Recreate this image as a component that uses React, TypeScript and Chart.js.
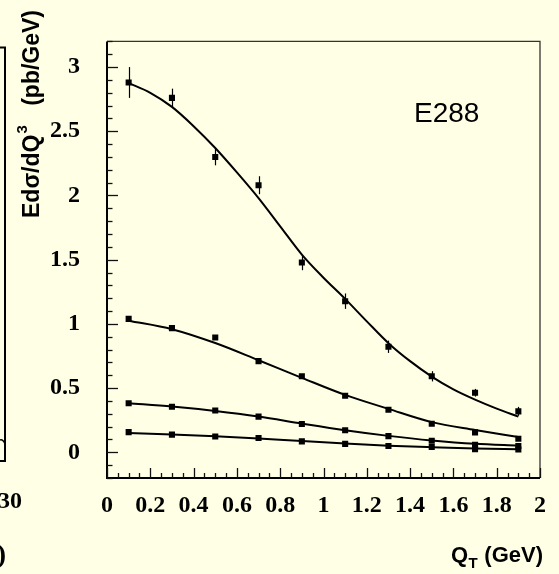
import React, { useEffect, useRef } from "react";
import { Chart, registerables } from "chart.js";

Chart.register(...registerables);

// ---- data ----
const xValues = [0.1, 0.3, 0.5, 0.7, 0.9, 1.1, 1.3, 1.5, 1.7, 1.9];
const seriesA = [2.88, 2.76, 2.3, 2.08, 1.478, 1.177, 0.822, 0.592, 0.464, 0.319];
const errorsA = [0.12, 0.072, 0.065, 0.07, 0.06, 0.06, 0.048, 0.04, 0.03, 0.035];
const seriesB = [1.039, 0.967, 0.894, 0.71, 0.592, 0.44, 0.331, 0.222, 0.155, 0.105];
const errorsB = [0.02, 0.01, 0.01, 0.01, 0.01, 0.008, 0.006, 0.005, 0.005, 0.005];
const seriesC = [0.382, 0.355, 0.326, 0.278, 0.22, 0.172, 0.126, 0.09, 0.058, 0.049];
const seriesD = [0.157, 0.138, 0.123, 0.111, 0.085, 0.066, 0.049, 0.041, 0.025, 0.022];

const curveAX = [0.1, 0.2, 0.3, 0.4, 0.5, 0.6, 0.7, 0.8, 0.9, 1.0, 1.1, 1.2, 1.3, 1.4, 1.5, 1.6, 1.7, 1.8, 1.9];
const curveA = [2.875, 2.8, 2.69, 2.54, 2.37, 2.18, 1.98, 1.76, 1.54, 1.36, 1.195, 1.02, 0.85, 0.71, 0.59, 0.49, 0.41, 0.34, 0.278];
const curveB = [1.025, 0.959, 0.851, 0.717, 0.58, 0.447, 0.338, 0.235, 0.174, 0.119];
const curveC = [0.382, 0.356, 0.322, 0.279, 0.224, 0.172, 0.128, 0.092, 0.066, 0.052];
const curveD = [0.15, 0.139, 0.125, 0.108, 0.088, 0.069, 0.052, 0.04, 0.03, 0.024];

const xTickLabels = ["0", "0.2", "0.4", "0.6", "0.8", "1", "1.2", "1.4", "1.6", "1.8", "2"];
const yTickLabels = ["0", "0.5", "1", "1.5", "2", "2.5", "3"];

const yTitleMain = "Edσ/dQ";
const yTitleSup = "3";
const yTitleUnit = "(pb/GeV)";
const xTitleMain = "Q";
const xTitleSub = "T";
const xTitleUnit = " (GeV)";
const experimentLabel = "E288";
const leftFragmentTick = "30";
const leftFragmentParen = ")";

const BG = "#FFFFE6";
const SERIF = '"Liberation Serif", "Times New Roman", serif';
const SANS = '"Liberation Sans", Arial, sans-serif';

const pts = (xs: number[], ys: number[]) => xs.map((x, i) => ({ x, y: ys[i] }));

const errorBarPlugin = {
  id: "errorBars",
  afterDatasetsDraw(chart: any) {
    const { ctx, scales } = chart;
    const xs = scales.x;
    const ys = scales.y;
    ctx.save();
    ctx.strokeStyle = "#000";
    ctx.lineWidth = 1.2;
    const sets: [number[], number[]][] = [
      [seriesA, errorsA],
      [seriesB, errorsB],
    ];
    sets.forEach(([vals, errs]) => {
      vals.forEach((v, i) => {
        const px = Math.round(xs.getPixelForValue(xValues[i])) + 0.5;
        ctx.beginPath();
        ctx.moveTo(px, ys.getPixelForValue(v + errs[i]));
        ctx.lineTo(px, ys.getPixelForValue(v - errs[i]));
        ctx.stroke();
      });
    });
    ctx.restore();
  },
};

const decorPlugin = {
  id: "decor",
  afterDraw(chart: any) {
    const { ctx, chartArea: a, scales } = chart;
    const xs = scales.x;
    const ys = scales.y;
    ctx.save();
    // frame
    ctx.strokeStyle = "#333";
    ctx.lineWidth = 1.3;
    ctx.beginPath();
    ctx.moveTo(a.left, a.top);
    ctx.lineTo(a.right, a.top);
    ctx.lineTo(a.right, a.bottom);
    ctx.stroke();
    ctx.strokeStyle = "#000";
    ctx.lineWidth = 2;
    ctx.beginPath();
    ctx.moveTo(a.left, a.top);
    ctx.lineTo(a.left, a.bottom);
    ctx.lineTo(a.right, a.bottom);
    ctx.stroke();

    // inward ticks
    ctx.lineWidth = 1.3;
    ctx.strokeStyle = "#111";
    xs.ticks.forEach((t: any) => {
      const px = Math.round(xs.getPixelForValue(t.value)) + 0.5;
      const major = t.label !== "";
      ctx.beginPath();
      ctx.moveTo(px, a.bottom);
      ctx.lineTo(px, a.bottom - (major ? 10 : 5));
      ctx.stroke();
    });
    ys.ticks.forEach((t: any) => {
      const py = Math.round(ys.getPixelForValue(t.value)) + 0.5;
      const major = t.label !== "";
      ctx.beginPath();
      ctx.moveTo(a.left, py);
      ctx.lineTo(a.left + (major ? 11 : 5.5), py);
      ctx.stroke();
    });

    // y title (rotated)
    ctx.fillStyle = "#000";
    ctx.translate(39, 218);
    ctx.rotate(-Math.PI / 2);
    ctx.textBaseline = "alphabetic";
    ctx.textAlign = "left";
    ctx.font = `bold 23px ${SANS}`;
    ctx.fillText(yTitleMain, 0, 0);
    const w1 = ctx.measureText(yTitleMain).width;
    ctx.font = `bold 15px ${SANS}`;
    ctx.fillText(yTitleSup, w1 + 1, -12);
    ctx.font = `bold 23px ${SANS}`;
    ctx.textAlign = "right";
    ctx.fillText(yTitleUnit, 208, 0);
    ctx.setTransform(1, 0, 0, 1, 0, 0);

    // x title
    ctx.textAlign = "left";
    ctx.font = `bold 22px ${SANS}`;
    const wu = ctx.measureText(xTitleUnit).width;
    ctx.font = `bold 15px ${SANS}`;
    const ws = ctx.measureText(xTitleSub).width;
    ctx.font = `bold 22px ${SANS}`;
    const wq = ctx.measureText(xTitleMain).width;
    const right = 543;
    const base = 562;
    const x0 = right - wu - ws - wq - 1;
    ctx.fillText(xTitleMain, x0, base);
    ctx.font = `bold 15px ${SANS}`;
    ctx.fillText(xTitleSub, x0 + wq + 0.5, base + 6);
    ctx.font = `bold 22px ${SANS}`;
    ctx.fillText(xTitleUnit, x0 + wq + ws + 1, base);

    // experiment label
    ctx.font = `28px ${SANS}`;
    ctx.textBaseline = "alphabetic";
    ctx.fillText(experimentLabel, 414, 122);

    // fragment of neighbouring panel on the left
    ctx.strokeStyle = "#000";
    ctx.lineWidth = 2;
    ctx.beginPath();
    ctx.moveTo(0, 47.5);
    ctx.lineTo(5, 47.5);
    ctx.lineTo(5, 461);
    ctx.lineTo(0, 461);
    ctx.stroke();
    ctx.lineWidth = 1.5;
    ctx.beginPath();
    ctx.moveTo(0, 440);
    ctx.quadraticCurveTo(3, 439, 5, 444);
    ctx.stroke();
    ctx.font = `bold 24px ${SERIF}`;
    ctx.textAlign = "right";
    ctx.fillText(leftFragmentTick, 22, 508);
    ctx.font = `bold 28px ${SERIF}`;
    ctx.fillText(leftFragmentParen, 6, 563);
    ctx.restore();
  },
};

export default function App() {
  const ref = useRef<HTMLCanvasElement>(null);
  useEffect(() => {
    document.body.style.margin = "0";
    document.body.style.background = BG;
    const canvas = ref.current!;
    const pointStyle = {
      showLine: false,
      pointStyle: "rect",
      pointRadius: 4.3,
      pointBorderWidth: 0,
      pointBackgroundColor: "#000",
      pointBorderColor: "#000",
      order: 0,
    };
    const lineStyle = {
      showLine: true,
      borderColor: "#000",
      borderWidth: 2,
      pointRadius: 0,
      cubicInterpolationMode: "monotone",
      fill: false,
      order: 1,
    };
    const chart = new Chart(canvas, {
      type: "scatter",
      data: {
        datasets: [
          { label: "A", data: pts(xValues, seriesA), ...pointStyle },
          { label: "B", data: pts(xValues, seriesB), ...pointStyle },
          { label: "C", data: pts(xValues, seriesC), ...pointStyle },
          { label: "D", data: pts(xValues, seriesD), ...pointStyle },
          { label: "fit A", data: pts(curveAX, curveA), ...lineStyle },
          { label: "fit B", data: pts(xValues, curveB), ...lineStyle },
          { label: "fit C", data: pts(xValues, curveC), ...lineStyle },
          { label: "fit D", data: pts(xValues, curveD), ...lineStyle },
        ] as any,
      },
      options: {
        responsive: false,
        animation: false,
        events: [],
        layout: { padding: { left: 0, top: 10, right: 13, bottom: 0 } },
        plugins: { legend: { display: false }, tooltip: { enabled: false } },
        scales: {
          x: {
            type: "linear",
            min: 0,
            max: 2,
            grid: { display: false, drawTicks: false },
            border: { display: false },
            ticks: {
              stepSize: 0.05,
              maxTicksLimit: 1000,
              autoSkip: false,
              maxRotation: 0,
              padding: 13,
              color: "#000",
              font: { family: SERIF, weight: "bold", size: 24 },
              callback: (v: any) => {
                const k = Math.round(Number(v) * 100);
                return k % 20 === 0 ? xTickLabels[k / 20] ?? "" : "";
              },
            },
            afterFit: (s: any) => {
              s.height = 96;
            },
          },
          y: {
            type: "linear",
            min: -0.2,
            max: 3.2,
            grid: { display: false, drawTicks: false },
            border: { display: false },
            ticks: {
              stepSize: 0.1,
              maxTicksLimit: 1000,
              autoSkip: false,
              padding: 27,
              color: "#000",
              font: { family: SERIF, weight: "bold", size: 24 },
              callback: (v: any) => {
                const k = Math.round(Number(v) * 10);
                return k >= 0 && k % 5 === 0 ? yTickLabels[k / 5] ?? "" : "";
              },
            },
            afterFit: (s: any) => {
              s.width = 107;
            },
          },
        },
      } as any,
      plugins: [errorBarPlugin, decorPlugin],
    });
    return () => chart.destroy();
  }, []);
  return (
    <div style={{ position: "fixed", left: 0, top: 0, width: 559, height: 574, background: BG }}>
      <canvas ref={ref} width={559} height={574} style={{ display: "block", width: 559, height: 574 }} />
    </div>
  );
}
